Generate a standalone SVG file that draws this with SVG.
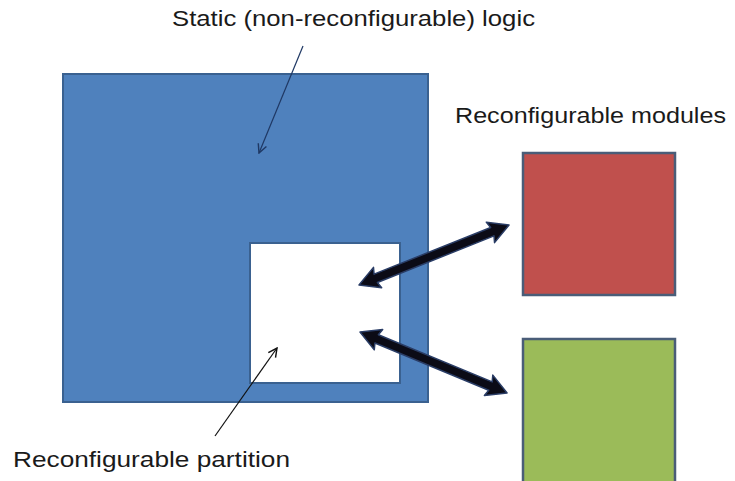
<svg xmlns="http://www.w3.org/2000/svg" width="735" height="481" viewBox="0 0 735 481">
  <style>
    .lbl { font-family: "Liberation Sans", Arial, sans-serif; font-size: 22.5px; fill: #1a1a1a; }
    .thin { fill: none; stroke-width: 1.2; }
    .thick { fill: #0b0b16; stroke: #2a3d66; stroke-width: 1.5; stroke-linejoin: round; }
  </style>
  <defs>
    <marker id="openNavy" viewBox="0 0 10 10" refX="9" refY="5" markerWidth="11" markerHeight="11" markerUnits="userSpaceOnUse" orient="auto">
      <path d="M1,1 L9,5 L1,9" fill="none" stroke="#1f3864" stroke-width="1.3"/>
    </marker>
    <marker id="openBlack" viewBox="0 0 10 10" refX="9" refY="5" markerWidth="11" markerHeight="11" markerUnits="userSpaceOnUse" orient="auto">
      <path d="M1,1 L9,5 L1,9" fill="none" stroke="#111" stroke-width="1.3"/>
    </marker>
  </defs>
  <rect width="735" height="481" fill="#ffffff"/>

  <g id="static-logic">
    <rect x="63" y="74" width="365" height="328" fill="#4f81bd" stroke="#3a6190" stroke-width="2"/>
  </g>
  <g id="partition">
    <rect x="250" y="243" width="150" height="140" fill="#ffffff" stroke="#3a6190" stroke-width="2"/>
  </g>
  <g id="module-red">
    <rect x="523" y="153" width="152" height="142" fill="#c0504d" stroke="#4a5d78" stroke-width="2.5"/>
  </g>
  <g id="module-green">
    <rect x="523" y="339" width="152" height="144" fill="#9bbb59" stroke="#4a5d78" stroke-width="2.5"/>
  </g>

  <g id="labels">
    <text class="lbl" x="172" y="26" textLength="363" lengthAdjust="spacingAndGlyphs">Static (non-reconfigurable) logic</text>
    <text class="lbl" x="455" y="123" textLength="271" lengthAdjust="spacingAndGlyphs">Reconfigurable modules</text>
    <text class="lbl" x="13" y="467" textLength="277" lengthAdjust="spacingAndGlyphs">Reconfigurable partition</text>
  </g>

  <g id="connectors">
    <line class="thin" x1="303" y1="46" x2="259" y2="153" stroke="#1f3864" marker-end="url(#openNavy)"/>
    <line class="thin" x1="215" y1="436" x2="277" y2="348" stroke="#111" marker-end="url(#openBlack)"/>
    <polygon class="thick" transform="translate(359,285) rotate(-21.8)" points="0,0 20,-11 18,-4.5 143.6,-4.5 141.6,-11 161.6,0 141.6,11 143.6,4.5 18,4.5 20,11"/>
    <polygon class="thick" transform="translate(360,332) rotate(22.5)" points="0,0 20,-11 18,-4.5 141.2,-4.5 139.2,-11 159.2,0 139.2,11 141.2,4.5 18,4.5 20,11"/>
  </g>
</svg>
